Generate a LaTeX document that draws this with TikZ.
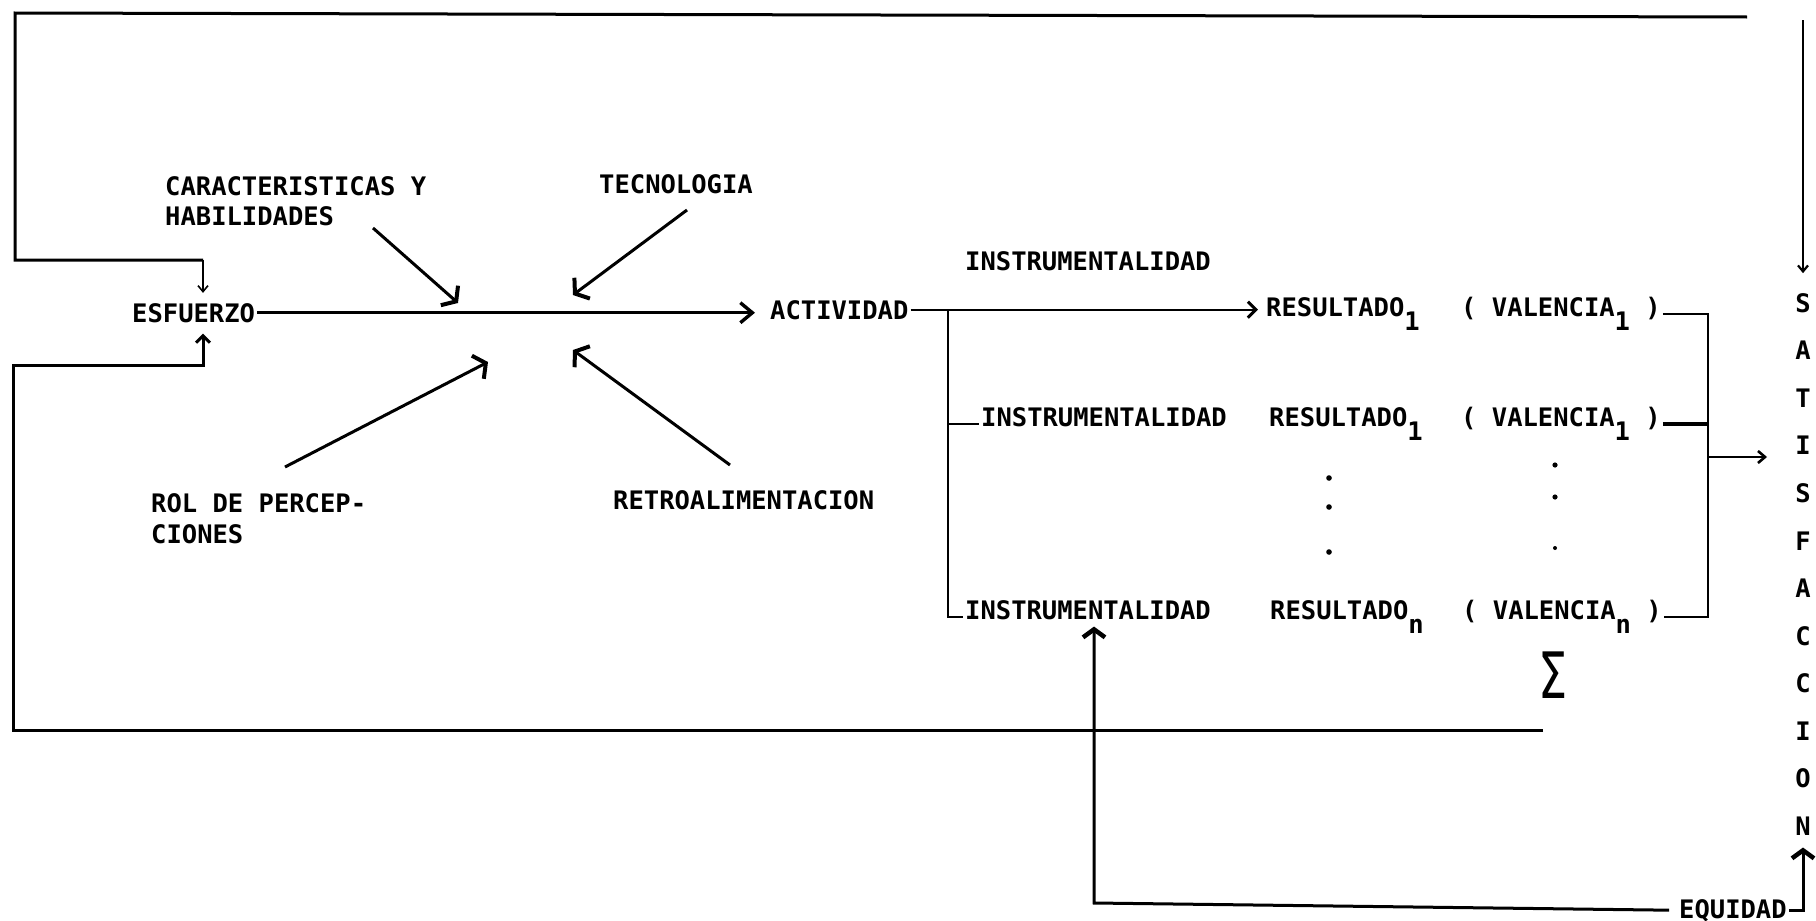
\documentclass[tikz,border=0pt]{standalone}
\usepackage{fontspec}
\usetikzlibrary{arrows.meta,calc}
\newfontfamily\tw{DejaVu Sans Mono}
\newfontfamily\sg{DejaVu Sans}
\newcommand\lowsub[1]{\raisebox{-14pt}{#1}}
\begin{document}
\begin{tikzpicture}[x=1pt,y=-1pt,
  txt/.style={font=\tw\bfseries\fontsize{25.5}{30}\selectfont, inner sep=2pt, anchor=base west},
  ln/.style={line width=3pt},
  lnthin/.style={line width=2.2pt},
  tipmain/.style={-{Straight Barb[length=12pt,width=20pt,line width=3.4pt]}},
  tipres/.style={-{Straight Barb[length=8pt,width=16pt,line width=3pt]}},
  tipdiag/.style={-{Straight Barb[length=9pt,width=26pt,line width=4pt]}},
  tipsmall/.style={-{Straight Barb[length=6pt,width=10pt]}},
  tipup/.style={-{Straight Barb[length=7pt,width=14pt,line width=3pt]}},
  tipbold/.style={-{Straight Barb[length=8pt,width=22pt,line width=4.5pt]}},
  tipout/.style={-{Straight Barb[length=7pt,width=12pt,line width=2.6pt]}},
  dotm/.style={fill=black}
]
\path[fill=white] (0,0) rectangle (1816,921);
\useasboundingbox (0,0) rectangle (1816,921);

% ---- text nodes ----
\node[txt] (car1) at (163,195) {CARACTERISTICAS Y};
\node[txt] (car2) at (163,225) {HABILIDADES};
\node[txt] (tec) at (597,193) {TECNOLOGIA};
\node[txt] (esf) at (130,322) {ESFUERZO};
\node[txt] (act) at (768,319) {ACTIVIDAD};
\node[txt] (rol1) at (149,512) {ROL DE PERCEP-};
\node[txt] (rol2) at (149,543) {CIONES};
\node[txt] (retro) at (611,509) {RETROALIMENTACION};
\node[txt] (ins0) at (963,270) {INSTRUMENTALIDAD};
\node[txt] (res1) at (1264,316) {RESULTADO\lowsub{1}};
\node[txt] (val1) at (1459,316) {( VALENCIA\lowsub{1} )};
\node[txt] (ins2) at (979,426) {INSTRUMENTALIDAD};
\node[txt] (res2) at (1267,426) {RESULTADO\lowsub{1}};
\node[txt] (val2) at (1459,426) {( VALENCIA\lowsub{1} )};
\node[txt] (ins3) at (963,619) {INSTRUMENTALIDAD};
\node[txt] (res3) at (1268,619) {RESULTADO\lowsub{n}};
\node[txt] (val3) at (1460,619) {( VALENCIA\lowsub{n} )};
\node[txt] (equ) at (1677,918) {EQUIDAD};
\node[inner sep=0pt, font=\sg\fontsize{64}{64}\selectfont] (sig) at (1553,675) {\scalebox{0.72}[1]{Σ}};
\foreach \ch [count=\i] in {S,A,T,I,S,F,A,C,C,I,O,N}
  \node[txt, anchor=center] (s\i) at (1803,{303+(\i-1)*47.55}) {\ch};

% ---- coordinates ----
\coordinate (topR) at (1747,17);
\coordinate (tl) at (15,13);
\coordinate (tlb) at (15,260);
\coordinate (td) at (203,260);
\coordinate (botR) at (1543,730);
\coordinate (bl) at (13,730);
\coordinate (blt) at (13,365);
\coordinate (bu) at (203,365);
\coordinate (cS) at (373,228);   \coordinate (cT) at (458,303);
\coordinate (tS) at (687,210);   \coordinate (tT) at (573,295);
\coordinate (rS) at (285,467);   \coordinate (rT) at (488,362);
\coordinate (fS) at (730,465);   \coordinate (fT) at (573,350);
\coordinate (br) at (948,309.5);
\coordinate (rb) at (1708,308);
\coordinate (outS) at (1708,457);
\coordinate (outT) at (1767,457);
\coordinate (eqL) at (1094,903);
\coordinate (satTop) at (1803,20);

% ---- feedback loops ----
\draw[ln] (topR) -- (tl) -- (tlb) -- (td);
\draw[line width=1.6pt, tipsmall, shorten >=8pt] (td) -- (td |- esf.north);
\draw[ln, tipup, shorten >=9pt] (botR) -- (bl) -- (blt) -- (bu) -- (bu |- esf.south);

% ---- main flow ----
\draw[ln, tipmain, shorten >=13pt] (esf.east) -- (esf.east -| act.west);
\draw[ln, tipdiag] (cS) -- (cT);
\draw[ln, tipdiag] (tS) -- (tT);
\draw[ln, tipdiag] (rS) -- (rT);
\draw[ln, tipdiag] (fS) -- (fT);

% ---- outcomes ----
\draw[lnthin, tipres, shorten >=6pt] (act.east) -- (act.east -| res1.west);
\draw[lnthin] (br) -- (br |- ins3.mid west) -- (ins3.mid west);
\draw[lnthin] (br |- ins2.mid west) -- (ins2.mid west);
\draw[lnthin] (val1.mid east) -- (val1.mid east -| rb) -- (val3.mid east -| rb) -- (val3.mid east);
\draw[line width=4.5pt] (val2.mid east) -- (val2.mid east -| rb);
\draw[lnthin, tipout] (outS) -- (outT);

\foreach \yy in {478,507,552} \fill[dotm] (1329,\yy) circle (2.8pt);
\fill[dotm] (1555,465) circle (2.6pt);
\fill[dotm] (1555,497) circle (2.6pt);
\fill[dotm] (1555,548) circle (2pt);

% ---- satisfaction / equity ----
\draw[lnthin, tipsmall, shorten >=18pt] (satTop) -- (s1.north);
\draw[ln, tipbold, shorten <=8pt, shorten >=5pt] (equ.west) -- (eqL) -- (eqL |- ins3.south);
\draw[ln, tipbold, shorten >=10pt] (equ.east) -- (equ.east -| s12.south) -- (s12.south);
\end{tikzpicture}
\end{document}
